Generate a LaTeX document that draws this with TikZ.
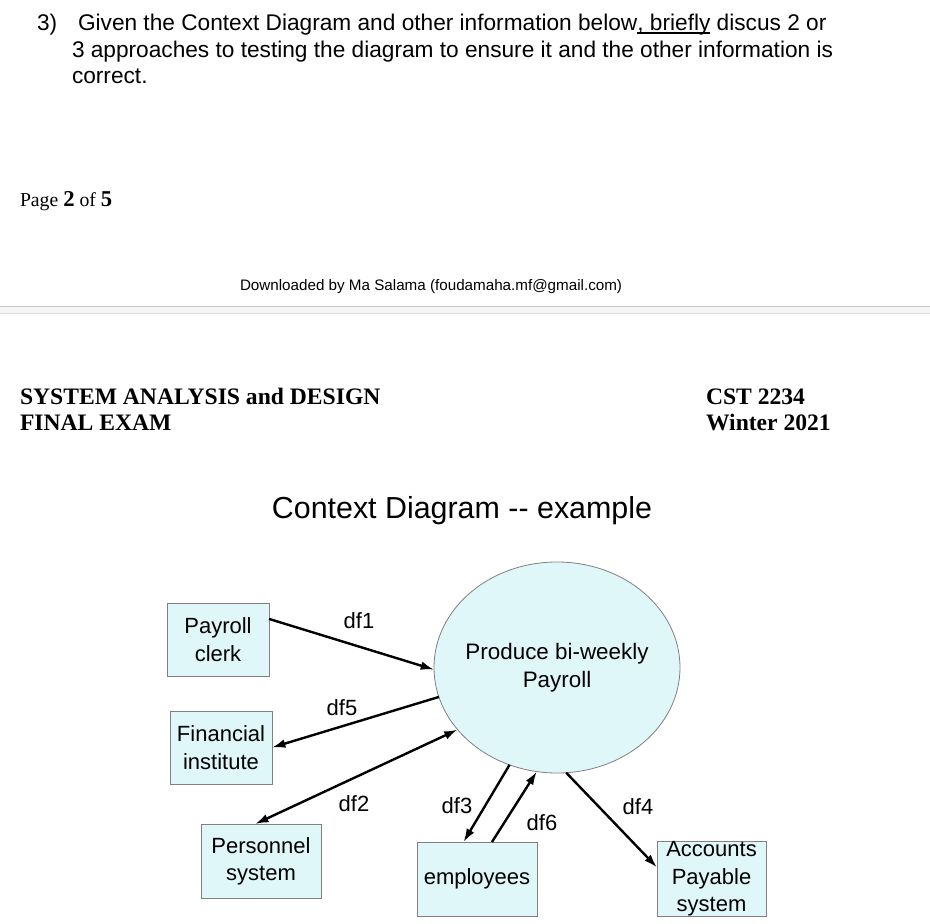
\documentclass[tikz,border=0pt]{standalone}
\usepackage{fontspec}
\setmainfont{Liberation Serif}
\setsansfont{Liberation Sans}
\usetikzlibrary{positioning, arrows.meta, shapes.geometric}
\definecolor{paleblue}{RGB}{224,247,250}
\definecolor{edgegray}{RGB}{128,128,128}
\newcommand{\ulbelow}[1]{{\setbox0\hbox{#1}\rlap{\rule[-2pt]{\wd0}{0.9pt}}\box0}}

\begin{document}
\begin{tikzpicture}[
  x=0.75pt, y=-0.75pt,
  every node/.style={inner sep=0pt, outer sep=0pt},
  qline/.style={anchor=base west, font=\sffamily\fontsize{17}{20}\selectfont},
  head/.style={anchor=base west, font=\rmfamily\bfseries\fontsize{17.7}{20}\selectfont},
  entity/.style={draw=edgegray, fill=paleblue, line width=0.6pt, align=center,
    font=\sffamily\fontsize{16.5}{20.5}\selectfont, minimum height=55pt},
  process/.style={ellipse, draw=edgegray, fill=paleblue, line width=0.6pt, align=center,
    font=\sffamily\fontsize{16.8}{21}\selectfont, minimum width=184.5pt, minimum height=158.25pt},
  dflabel/.style={font=\sffamily\fontsize{16.5}{18}\selectfont},
  flow/.style={line width=1.8pt, -{Latex[length=10pt,width=6.5pt]}},
  flowboth/.style={line width=1.8pt, {Latex[length=10pt,width=6.5pt]}-{Latex[length=10pt,width=6.5pt]}}
]
\useasboundingbox[fill=white] (0,0) rectangle (930,923);

\node[qline] (qnum) at (37,31) {3)};
\node[qline] (qone) at (78,31) {Given the Context Diagram and other information below\ulbelow{, briefly} discus 2 or};
\node[qline] (qtwo) at (72,57.5) {3 approaches to testing the diagram to ensure it and the other information is};
\node[qline] (qthree) at (72,84) {correct.};

\node[anchor=base west, font=\rmfamily\fontsize{14.8}{17}\selectfont] (pagenum) at (20,207) {Page {\fontsize{17}{17}\selectfont\bfseries 2} of {\fontsize{17}{17}\selectfont\bfseries 5}};
\node[anchor=base west, font=\sffamily\fontsize{11.4}{13}\selectfont] (dl) at (240,290.5) {Downloaded by Ma Salama (foudamaha.mf@gmail.com)};

\fill[gray!8] (0,306) rectangle (930,313);
\draw[gray!45] (0,306) -- (930,306);
\draw[gray!25] (0,313) -- (930,313);

\node[head] (course) at (20,404) {SYSTEM ANALYSIS and DESIGN};
\node[head] (exam) at (20,430.5) {FINAL EXAM};
\node[head] (code) at (706,404) {CST 2234};
\node[head] (term) at (706,430.5) {Winter 2021};

\node[anchor=base, font=\sffamily\fontsize{22.8}{26}\selectfont] (title) at (462,518) {Context Diagram -\kern0pt- example};

\node[process] (payroll) at (557,667.5) {\makebox[110pt]{Produce bi-weekly}\\Payroll};
\node[entity, minimum width=76.5pt, minimum height=54.75pt] (clerk) at (218,639.5) {Payroll\\clerk};
\node[entity, minimum width=76.5pt, minimum height=54.75pt] (bank) at (221,747.5) {Financial\\institute};
\node[entity, minimum width=90pt, minimum height=55.5pt] (personnel) at (261,861) {Personnel\\system};
\node[entity, minimum width=90pt, minimum height=55.5pt] (staff) at (477,879) {employees};
\node[entity, minimum width=81.75pt, minimum height=55.5pt] (payable) at (711.5,879) {Accounts\\Payable\\system};

\draw[flow] (clerk.22.9) -- (payroll.181);
\draw[flow] (payroll.194.8) -- (bank.east);
\draw[flowboth] (personnel.99) -- (payroll.212.9);
\draw[flow] (payroll.244) -- (staff.110.7);
\draw[flow] (staff.68.5) -- (payroll.259.5);
\draw[flow] (payroll.275.4) -- (payable.168.6);

\node[dflabel] (dfone) at (359,621) {df1};
\node[dflabel] (dffive) at (342,708) {df5};
\node[dflabel] (dftwo) at (354,804) {df2};
\node[dflabel] (dfthree) at (457,806) {df3};
\node[dflabel] (dfsix) at (542,823) {df6};
\node[dflabel] (dffour) at (638,807) {df4};
\end{tikzpicture}
\end{document}
